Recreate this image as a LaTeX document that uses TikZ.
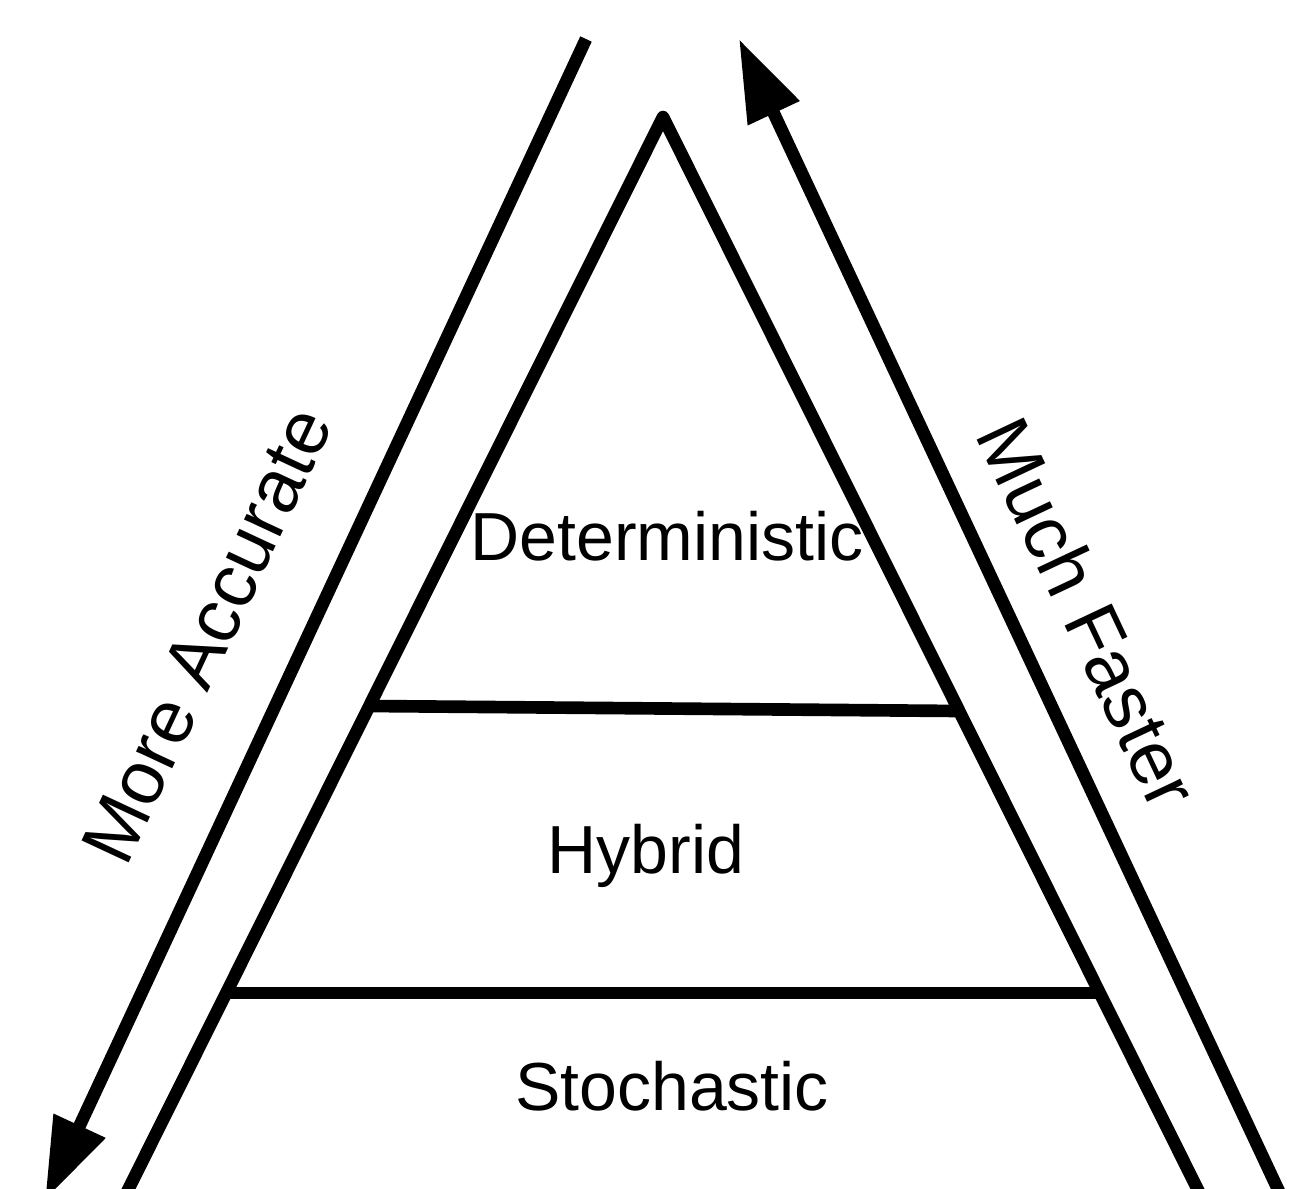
\documentclass[tikz,border=0pt]{standalone}
\usepackage{fontspec}
\setmainfont{Liberation Sans}
\usetikzlibrary{arrows.meta}
\begin{document}
\begin{tikzpicture}[x=0.02cm,y=-0.02cm,
  thickline/.style={line width=7.2pt},
  arrowline/.style={line width=7.2pt, -{Triangle[length=1.64cm,width=1.08cm]}},
  level/.style={font=\fontsize{38.7}{46}\selectfont, anchor=base, inner sep=0pt},
  side/.style={font=\fontsize{43}{52}\selectfont, anchor=base, inner sep=0pt}]
\useasboundingbox (0,0) rectangle (1303,1188);
\clip (0,0) rectangle (1303,1188);
% triangle
\coordinate (apex) at (663,117);
\coordinate (bl) at (123,1200);
\coordinate (br) at (1203,1200);
\coordinate (h1l) at (370,706);
\coordinate (h1r) at (959,711);
\coordinate (h2l) at (227,993);
\coordinate (h2r) at (1099,993);
\draw[thickline, line join=round] (bl) -- (apex) -- (br);
\draw[thickline] (h1l) -- (h1r);
\draw[thickline] (h2l) -- (h2r);
% arrows
\coordinate (ltop) at (586,39);
\coordinate (ltip) at (45,1200);
\coordinate (rbot) at (1283,1200);
\coordinate (rtip) at (739,39);
\draw[arrowline] (ltop) -- (ltip);
\draw[arrowline] (rbot) -- (rtip);
% labels
\node[level] (det) at (667,560) {Deterministic};
\node[level] (hyb) at (646,873) {Hybrid};
\node[level] (sto) at (672,1110) {Stochastic};
\node[side, rotate=65] (acc) at (230,646) {More Accurate};
\node[side, rotate=-64.8] (fast) at (1064,624) {Much Faster};
\end{tikzpicture}
\end{document}
